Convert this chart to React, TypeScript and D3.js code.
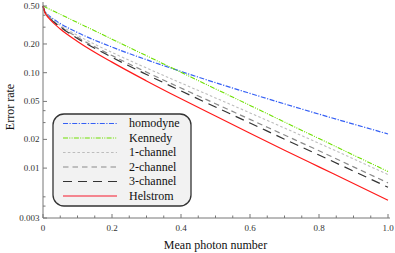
import React from "react";
import * as d3 from "d3";

// mean photon number samples
const photonN = [0, 0.005, 0.01, 0.02, 0.05, 0.1, 0.2, 0.3, 0.4, 0.5, 0.6, 0.7, 0.8, 0.9, 1.0];

// error rates
const homodyne = [0.5, 0.4438, 0.4208, 0.3887, 0.3274, 0.2636, 0.1855, 0.1367, 0.103, 0.0786, 0.0607, 0.0471, 0.0368, 0.0289, 0.0228];
const kennedy = [0.5, 0.4901, 0.4804, 0.4616, 0.4094, 0.3352, 0.2247, 0.1506, 0.101, 0.0677, 0.0454, 0.0304, 0.0204, 0.0137, 0.0092];
const oneChannel = [0.5, 0.4396, 0.4148, 0.3803, 0.3145, 0.246, 0.163, 0.112, 0.0779, 0.0544, 0.0379, 0.0263, 0.0182, 0.0125, 0.00856];
const twoChannel = [0.5, 0.4364, 0.4103, 0.3741, 0.3055, 0.2349, 0.1512, 0.1014, 0.069, 0.0473, 0.0324, 0.0222, 0.0152, 0.0103, 0.007];
const threeChannel = [0.5, 0.4346, 0.4078, 0.3707, 0.3005, 0.2288, 0.145, 0.0958, 0.0644, 0.0437, 0.0297, 0.0201, 0.0137, 0.0093, 0.0063];
const helstrom = [0.5, 0.4296, 0.401, 0.3614, 0.2871, 0.2129, 0.129, 0.082, 0.0533, 0.0351, 0.0232, 0.0154, 0.0103, 0.0069, 0.0046];

const seriesNames = ["homodyne", "Kennedy", "1-channel", "2-channel", "3-channel", "Helstrom"];

const yTickValues = [0.5, 0.2, 0.1, 0.05, 0.02, 0.01, 0.003];
const yTickLabels = ["0.50", "0.20", "0.10", "0.05", "0.02", "0.01", "0.003"];
const yMinorTicks = [0.4, 0.3, 0.04, 0.03, 0.005, 0.004];
const xTickValues = [0, 0.2, 0.4, 0.6, 0.8, 1.0];
const xTickLabels = ["0", "0.2", "0.4", "0.6", "0.8", "1.0"];

const styles = [
  { color: "#3560f5", dash: "5,1.5,1.2,1.5", width: 1.2 },
  { color: "#6ee000", dash: "5,1.3,1,1.3,1,1.3", width: 1.1 },
  { color: "#bdbdbd", dash: "2.6,2.2", width: 1.1 },
  { color: "#8a8a8a", dash: "5.5,4", width: 1.2 },
  { color: "#333333", dash: "9,6", width: 1.2 },
  { color: "#ff1a1a", dash: null, width: 1.2 },
];

const W = 395;
const H = 253;
const font = '"Liberation Serif", "Times New Roman", Times, "DejaVu Serif", serif';

export default function App() {
  const x = d3.scaleLinear().domain([0, 1]).range([43, 388]);
  const y = d3.scaleLog().domain([0.003, 0.5]).range([218, 6]);

  const allSeries = [homodyne, kennedy, oneChannel, twoChannel, threeChannel, helstrom];
  const line = d3
    .line<number>()
    .x((d, i) => x(photonN[i]))
    .y((d) => y(d))
    .curve(d3.curveMonotoneX);

  const xMinor = d3.range(0, 1.0001, 0.05);

  // legend placement
  const lg = { x: 53, y: 114, w: 138, h: 92, row0: 123.5, step: 14.5 };

  return (
    <svg
      width={W}
      height={H}
      style={{ position: "absolute", left: 0, top: 0, background: "#fff", fontFamily: font }}
    >
      {/* curves */}
      {allSeries.map((s, i) => (
        <path
          key={seriesNames[i]}
          d={line(s) || ""}
          fill="none"
          stroke={styles[i].color}
          strokeWidth={styles[i].width}
          strokeDasharray={styles[i].dash || undefined}
        />
      ))}

      {/* axes */}
      <line x1={43} x2={43} y1={2} y2={218} stroke="#777" strokeWidth={1} />
      <line x1={43} x2={390} y1={218} y2={218} stroke="#777" strokeWidth={1} />

      {yTickValues.map((v, i) => (
        <g key={"yt" + i}>
          <line x1={43} x2={47} y1={y(v)} y2={y(v)} stroke="#777" />
          <text x={39.5} y={y(v)} dy="0.33em" textAnchor="end" fontSize={9} fill="#333">
            {yTickLabels[i]}
          </text>
        </g>
      ))}
      {yMinorTicks.map((v, i) => (
        <line key={"ym" + i} x1={43} x2={45.5} y1={y(v)} y2={y(v)} stroke="#777" />
      ))}

      {xMinor.map((v, i) => (
        <line
          key={"xm" + i}
          x1={x(v)}
          x2={x(v)}
          y1={218}
          y2={i % 4 === 0 ? 214 : 215.5}
          stroke="#777"
        />
      ))}
      {xTickValues.map((v, i) => (
        <text key={"xt" + i} x={x(v)} y={230.5} textAnchor="middle" fontSize={9} fill="#333">
          {xTickLabels[i]}
        </text>
      ))}

      {/* axis labels */}
      <text x={215.5} y={249} textAnchor="middle" fontSize={12} fill="#111">
        Mean photon number
      </text>
      <text
        transform="translate(13.5,107) rotate(-90)"
        textAnchor="middle"
        fontSize={12}
        fill="#111"
      >
        Error rate
      </text>

      {/* legend */}
      <rect
        x={lg.x}
        y={lg.y}
        width={lg.w}
        height={lg.h}
        rx={11}
        ry={11}
        fill="#f2f2f2"
        stroke="#333"
        strokeWidth={1.3}
      />
      {seriesNames.map((name, i) => {
        const ry = lg.row0 + i * lg.step;
        return (
          <g key={"lg" + i}>
            <line
              x1={63}
              x2={117}
              y1={ry}
              y2={ry}
              stroke={i === 5 ? "#f5606e" : styles[i].color}
              strokeWidth={i === 5 ? 1.6 : styles[i].width}
              strokeDasharray={styles[i].dash || undefined}
            />
            <text x={129} y={ry} dy="0.33em" fontSize={12} fill="#111">
              {name}
            </text>
          </g>
        );
      })}
    </svg>
  );
}
